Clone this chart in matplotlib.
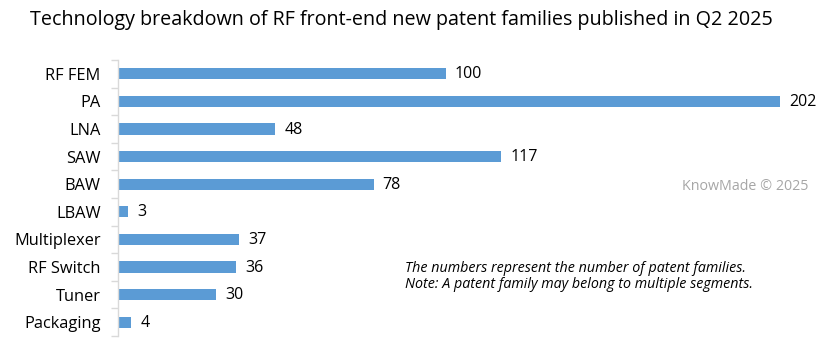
import matplotlib
matplotlib.use("Agg")
import matplotlib.pyplot as plt

categories = ["RF FEM", "PA", "LNA", "SAW", "BAW", "LBAW", "Multiplexer", "RF Switch", "Tuner", "Packaging"]
values = [100, 202, 48, 117, 78, 3, 37, 36, 30, 4]

title = "Technology breakdown of RF front-end new patent families published in Q2 2025"
note_lines = ["The numbers represent the number of patent families.",
              "Note: A patent family may belong to multiple segments."]
watermark = "KnowMade © 2025"

W, H = 825, 342
fig = plt.figure(figsize=(W / 100, H / 100), dpi=100)
fam = "Open Sans"

ax_left, ax_right = 118, 780
ax_top, ax_bot = 60, 336
ax = fig.add_axes([ax_left / W, (H - ax_bot) / H, (ax_right - ax_left) / W, (ax_bot - ax_top) / H])

ypos = list(range(len(categories)))
ax.barh(ypos, values, height=0.4, color="#5B9BD5", edgecolor="none")
ax.set_xlim(0, max(values))
ax.set_ylim(len(categories) - 0.5, -0.5)

for y, v in zip(ypos, values):
    ax.annotate(str(v), xy=(v, y), xytext=(6.5, -0.5), textcoords="offset points",
                va="center", ha="left", fontsize=11.5, family=fam, color="#000000",
                annotation_clip=False)

ax.set_yticks(ypos)
ax.set_yticklabels(categories, fontsize=11.8, family=fam, color="#000000")
ax.tick_params(axis="y", which="major", length=0, pad=12.5)
ax.set_yticks([y + 0.5 for y in range(-1, len(categories))], minor=True)
ax.tick_params(axis="y", which="minor", length=5, color="#D9D9D9", width=1)
ax.set_xticks([])
for s in ["top", "right", "bottom"]:
    ax.spines[s].set_visible(False)
ax.spines["left"].set_color("#D9D9D9")
ax.spines["left"].set_linewidth(1)

fig.text(401 / W, 1 - 20 / H, title, ha="center", va="center", fontsize=14.2, family=fam, color="#000000")
fig.text(808 / W, 1 - 186 / H, watermark, ha="right", va="center", fontsize=10.3, family=fam, color="#A6A6A6")
fig.text(405 / W, 1 - 268 / H, note_lines[0], ha="left", va="center", fontsize=10.3, family=fam, style="italic", color="#000000")
fig.text(405 / W, 1 - 285 / H, note_lines[1], ha="left", va="center", fontsize=10.3, family=fam, style="italic", color="#000000")

fig.savefig("out.png", dpi=100)
